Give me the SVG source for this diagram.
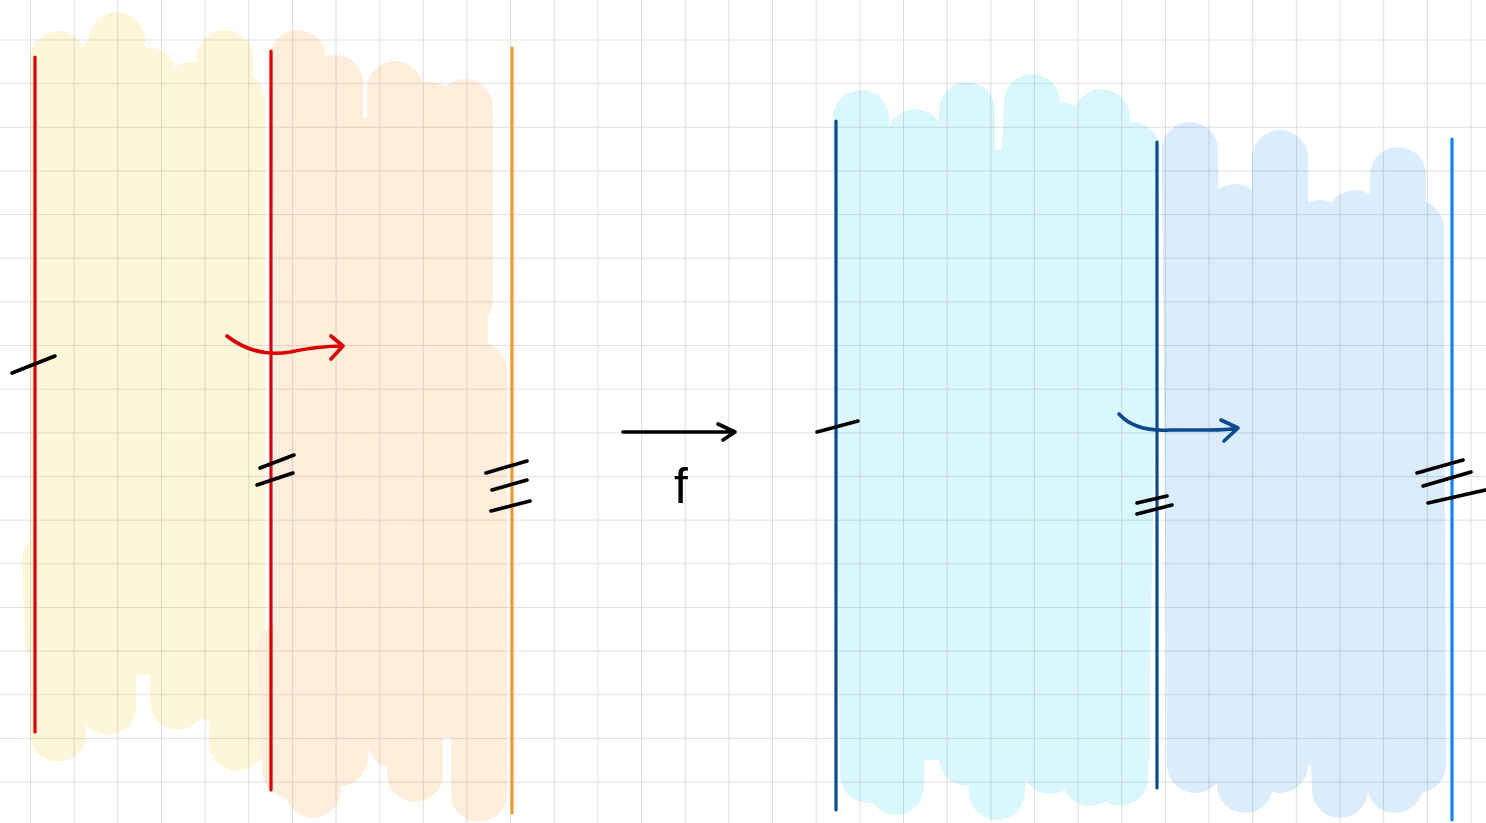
<svg xmlns="http://www.w3.org/2000/svg" width="1486" height="823" viewBox="0 0 1486 823">
<defs>
<pattern id="grid" x="30" y="39.5" width="43.65" height="43.65" patternUnits="userSpaceOnUse">
<path d="M0 0 H43.65 M0 0 V43.65" fill="none" stroke="#000" stroke-opacity="0.16" stroke-width="1.6"/>
</pattern>
</defs>
<style>
.hl{fill:none;stroke-width:56;stroke-linecap:round;stroke-linejoin:round}
.y{stroke:#FEF6DA}.o{stroke:#FEEEDB}.c{stroke:#DAF7FD}.b{stroke:#DBECFD}
.ln{fill:none;stroke-width:3.2;stroke-linecap:round}
.ink{fill:none;stroke-width:3.6;stroke-linecap:round;stroke-linejoin:round}
.k{stroke:#000}.r{stroke:#DC0000}.n{stroke:#0B4A8C}
</style>
<rect width="1486" height="823" fill="#fff"/>
<g id="highlight-yellow">
<rect x="34" y="85" width="218" height="590" fill="#FEF6DA"/>
<path class="hl y" d="M58 59 V734 M108 60 V707 M117 40 V600 M148 75 V600 M178 95 V702 M225 58 V700 M237 100 V743 M50 560 L53 640 M190 90 L200 90"/>
</g>
<g id="highlight-orange">
<rect x="274" y="118" width="214" height="620" fill="#FEEEDB"/>
<path class="hl o" d="M298 58 L313 790 M335 83 L340 758 M395 89 V740 M415 200 V774 M430 110 V300 M465 107 V300 M479 370 V794 M285 650 L290 770"/>
</g>
<g id="highlight-cyan">
<rect x="840" y="150" width="310" height="610" fill="#DAF7FD"/>
<path class="hl c" d="M861 118 L868 775 M915 137 L896 787 M967 110 V758 M1032 102 L997 792 M1060 130 L1050 766 M1102 117 L1090 778 M1132 150 L1120 778"/>
</g>
<g id="highlight-blue">
<rect x="1170" y="235" width="262" height="530" fill="#DBECFD"/>
<path class="hl b" d="M1190 150 L1195 765 M1235 212 L1245 785 M1280 158 V765 M1320 228 L1340 790 M1355 218 V700 M1398 175 L1395 785 M1416 228 L1418 765"/>
</g>
<rect id="grid-paper" width="1486" height="823" fill="url(#grid)"/>
<g id="line-red-1"><path class="ln" stroke="#DC0000" d="M35 57 V732"/></g>
<g id="line-red-2"><path class="ln" stroke="#DC0000" d="M271 51 V790"/></g>
<g id="line-orange"><path class="ln" stroke="#F29A2E" d="M512 48 V813"/></g>
<g id="line-navy-1"><path class="ln" stroke="#0B4A8C" d="M836 121 V810"/></g>
<g id="line-navy-2"><path class="ln" stroke="#0B4A8C" d="M1157 142 V788"/></g>
<g id="line-blue"><path class="ln" stroke="#1283F0" d="M1452 139 V820"/></g>
<g id="connectors">
<path class="ink r" d="M227 336 Q255 358 290 352 Q318 346 343 346 M331 336 L343 346 L331 359"/>
<path class="ink k" d="M623 432 H735 M718 424 L735 432 L723 440"/>
<path class="ink n" d="M1119 414 Q1135 432 1170 430 L1210 430 Q1228 430 1238 428 M1221 420 L1238 428 L1224 441"/>
</g>
<g id="ticks">
<path class="ink k" d="M12 373 L55 356"/>
<path class="ink k" d="M260 468 L294 455 M257 485 L293 473"/>
<path class="ink k" d="M486 473 L527 461 M492 490 L527 480 M491 511 L530 501"/>
<path class="ink k" d="M817 432 L858 421"/>
<path class="ink k" d="M1137 503 L1167 496 M1137 514 L1172 505"/>
<path class="ink k" d="M1417 473 L1463 460 M1423 486 L1471 472 M1428 503 L1490 489"/>
</g>
<g id="label-f">
<text x="681" y="503" font-family="Liberation Sans, sans-serif" font-size="50" text-anchor="middle" fill="#000">f</text>
</g>
</svg>
